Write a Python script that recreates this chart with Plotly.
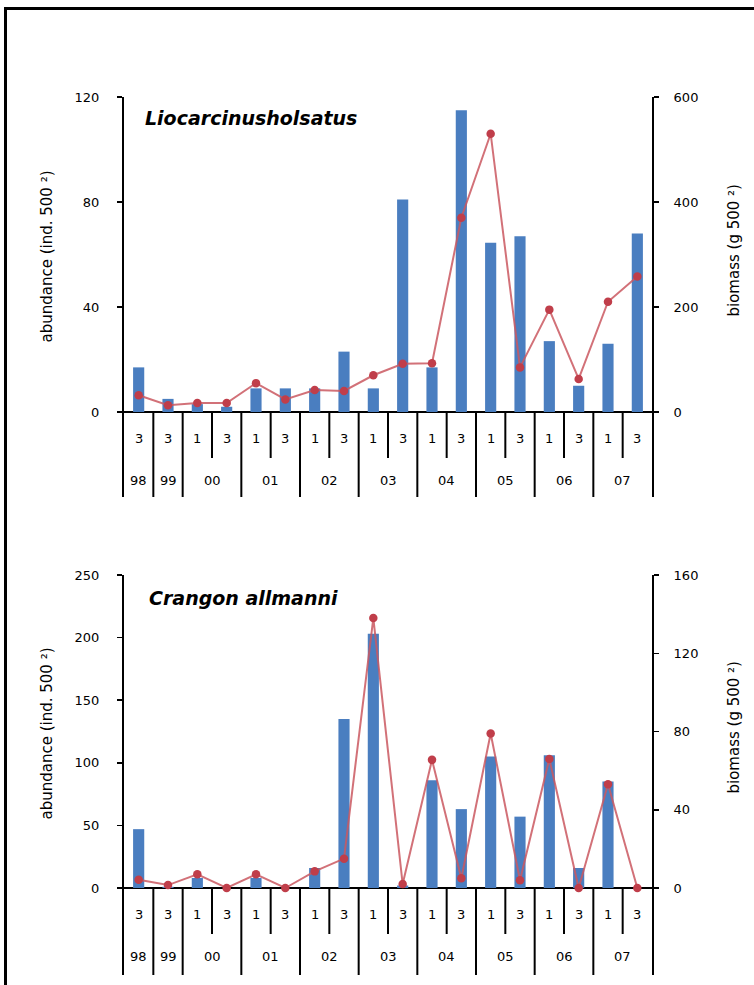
import plotly.graph_objects as go

# ---------------- data ----------------
cat_years = ['98', '99', '00', '00', '01', '01', '02', '02', '03', '03',
             '04', '04', '05', '05', '06', '06', '07', '07']
cat_seasons = ['3', '3', '1', '3', '1', '3', '1', '3', '1', '3',
               '1', '3', '1', '3', '1', '3', '1', '3']
year_labels = ['98', '99', '00', '01', '02', '03', '04', '05', '06', '07']

lio_abundance = [17, 5, 3, 2, 9, 9, 9, 23, 9, 81, 17, 115, 64.5, 67, 27, 10, 26, 68]
lio_biomass = [32, 13, 17, 17, 55, 24, 42, 40, 70, 92, 93, 370, 530, 85, 195, 63, 210, 258]

cra_abundance = [47, 1, 8, 0, 8, 0, 16, 135, 203, 2, 86, 63, 105, 57, 106, 16, 85, 0]
cra_biomass = [4.2, 1.5, 7, 0, 7, 0, 8.5, 15, 138, 2, 65.5, 5, 79, 4, 66, 0, 53, 0]

lio_title = 'Liocarcinusholsatus'
cra_title = 'Crangon allmanni'
left_title = 'abundance (ind. 500 ²)'
right_title = 'biomass (g 500 ²)'

lio_left_ticks = [0, 40, 80, 120]
lio_right_ticks = [0, 200, 400, 600]
cra_left_ticks = [0, 50, 100, 150, 200, 250]
cra_right_ticks = [0, 40, 80, 120, 160]

# ---------------- layout constants (pixels) ----------------
W, H = 754, 985
X_LEFT, X_RIGHT = 124, 652
panels = [
    dict(top=97, zero=412, bottom=497, abund=lio_abundance, bio=lio_biomass,
         lt=lio_left_ticks, rt=lio_right_ticks, title=lio_title, title_x=143, title_y=118),
    dict(top=575, zero=888, bottom=975, abund=cra_abundance, bio=cra_biomass,
         lt=cra_left_ticks, rt=cra_right_ticks, title=cra_title, title_x=147, title_y=598),
]

BAR_COLOR = 'rgb(74,126,192)'
LINE_COLOR = 'rgba(202,88,96,0.85)'
MARKER_COLOR = 'rgb(192,62,74)'
FONT = 'DejaVu Sans, Arial, sans-serif'

cats = [f'{y}-{s}' for y, s in zip(cat_years, cat_seasons)]

def px_x(p):
    return p / W

def px_y(p):
    return 1 - p / H

fig = go.Figure()
layout = dict(
    template='none',
    width=W, height=H,
    margin=dict(l=0, r=0, t=0, b=0, pad=0, autoexpand=False),
    paper_bgcolor='white', plot_bgcolor='white', showlegend=False,
    font=dict(family=FONT, color='black', size=13),
    bargap=0.62,
)
annotations = []
shapes = []

for i, p in enumerate(panels):
    xa = 'x' if i == 0 else 'x2'
    ya_l = 'y' if i == 0 else 'y3'
    ya_r = 'y2' if i == 0 else 'y4'
    xkey = 'xaxis' if i == 0 else 'xaxis2'
    ylkey = 'yaxis' if i == 0 else 'yaxis3'
    yrkey = 'yaxis2' if i == 0 else 'yaxis4'

    fig.add_trace(go.Bar(x=cats, y=p['abund'], marker=dict(color=BAR_COLOR, line=dict(width=0)),
                         xaxis=xa, yaxis=ya_l))
    fig.add_trace(go.Scatter(x=cats, y=p['bio'], mode='lines+markers',
                             line=dict(color=LINE_COLOR, width=2),
                             marker=dict(color=MARKER_COLOR, size=8.5, line=dict(width=0)),
                             xaxis=xa, yaxis=ya_r))

    axis_px = p['zero'] - p['top']
    ext_px = p['bottom'] - p['zero']
    lmax = max(p['lt'])
    rmax = max(p['rt'])
    lmin = -lmax * ext_px / axis_px
    rmin = -rmax * ext_px / axis_px

    layout[xkey] = dict(domain=[px_x(X_LEFT), px_x(X_RIGHT)], anchor=ya_l,
                        type='category', range=[-0.5, len(cats) - 0.5],
                        showticklabels=False, ticks='', showline=False,
                        showgrid=False, zeroline=False, automargin=False)
    common = dict(showgrid=False, showline=True, linecolor='black', linewidth=2,
                  ticks='outside', ticklen=5, tickwidth=1.5, tickcolor='black',
                  automargin=False,
                  tickfont=dict(size=13, family=FONT, color='black'))
    layout[ylkey] = dict(domain=[px_y(p['bottom']), px_y(p['top'])], anchor=xa,
                         range=[lmin, lmax], tickvals=p['lt'],
                         zeroline=True, zerolinecolor='black', zerolinewidth=2,
                         ticklabelstandoff=15, **common)
    layout[yrkey] = dict(overlaying=ya_l, side='right', anchor=xa,
                         range=[rmin, rmax], tickvals=p['rt'], zeroline=False,
                         ticklabelstandoff=12, **common)

    short_len = 46 * (-lmin) / ext_px
    for b in range(1, len(cats)):
        same_year = cat_years[b] == cat_years[b - 1]
        shapes.append(dict(type='line', xref=xa, yref=ya_l,
                           x0=b - 0.5, x1=b - 0.5, y0=0,
                           y1=-short_len if same_year else lmin,
                           line=dict(color='black', width=2)))

    for c, s in zip(cats, cat_seasons):
        annotations.append(dict(x=c, xref=xa, y=px_y(p['zero'] + 26), yref='paper',
                                text=s, showarrow=False, font=dict(size=13),
                                xanchor='center', yanchor='middle'))
    for yl in year_labels:
        idx = [k for k, yy in enumerate(cat_years) if yy == yl]
        xc = (idx[0] + idx[-1]) / 2
        annotations.append(dict(x=xc, xref=xa, y=px_y(p['zero'] + 68), yref='paper',
                                text=yl, showarrow=False, font=dict(size=13),
                                xanchor='center', yanchor='middle'))
    annotations.append(dict(x=px_x(p['title_x']), xref='paper', y=px_y(p['title_y']), yref='paper',
                            text=f'<b><i>{p["title"]}</i></b>', showarrow=False,
                            font=dict(size=19), xanchor='left', yanchor='middle'))
    mid = (p['top'] + p['zero']) / 2 + 2
    annotations.append(dict(x=px_x(46), xref='paper', y=px_y(mid), yref='paper',
                            text=left_title, textangle=-90, showarrow=False,
                            font=dict(size=15), xanchor='center', yanchor='middle'))
    annotations.append(dict(x=px_x(733), xref='paper', y=px_y(mid - 6), yref='paper',
                            text=right_title, textangle=-90, showarrow=False,
                            font=dict(size=15), xanchor='center', yanchor='middle'))

shapes.append(dict(type='line', xref='paper', yref='paper', x0=px_x(5.5), x1=px_x(5.5),
                   y0=px_y(7), y1=0, line=dict(color='black', width=3)))
shapes.append(dict(type='line', xref='paper', yref='paper', x0=px_x(4), x1=1,
                   y0=px_y(8.5), y1=px_y(8.5), line=dict(color='black', width=3)))

layout['annotations'] = annotations
layout['shapes'] = shapes
fig.update_layout(**layout)
fig.write_html(
    'out.html',
    config={'displayModeBar': False, 'staticPlot': True},
    post_script=("document.documentElement.style.margin='0';"
                 "document.documentElement.style.overflow='hidden';"
                 "document.body.style.margin='0';document.body.style.padding='0';"
                 "document.body.style.overflow='hidden';"),
)
